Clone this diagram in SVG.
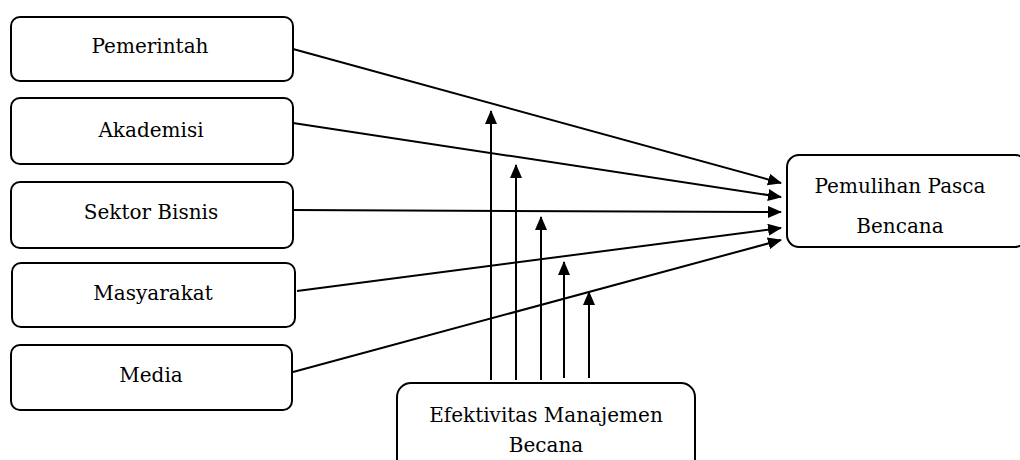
<svg xmlns="http://www.w3.org/2000/svg" width="1020" height="460" viewBox="0 0 1020 460">
<defs>
<style>
.box{fill:#fff;stroke:#000;stroke-width:2}
.t{font-family:"DejaVu Serif","Liberation Serif",serif;font-size:20px;fill:#000;text-anchor:middle}
.c{stroke:#000;stroke-width:2;fill:none;marker-end:url(#ah)}
</style>
<marker id="ah" markerWidth="14" markerHeight="12" refX="13" refY="6" orient="auto" markerUnits="userSpaceOnUse">
<path d="M0,0 L14,6 L0,12 Z" fill="#000"/>
</marker>
</defs>
<rect width="1020" height="460" fill="#fff"/>
<g id="connectors">
<line class="c" x1="293" y1="49" x2="781" y2="183"/>
<line class="c" x1="293" y1="123" x2="781" y2="197"/>
<line class="c" x1="293" y1="210" x2="781" y2="212"/>
<line class="c" x1="297" y1="291" x2="781" y2="228"/>
<line class="c" x1="293" y1="372" x2="781" y2="240"/>
<line class="c" x1="491" y1="380" x2="491" y2="111"/>
<line class="c" x1="516" y1="380" x2="516" y2="165"/>
<line class="c" x1="541" y1="380" x2="541" y2="217"/>
<line class="c" x1="564" y1="378" x2="564" y2="262"/>
<line class="c" x1="589" y1="378" x2="589" y2="292"/>
</g>
<g id="pemerintah"><rect class="box" x="11" y="17" width="282" height="64" rx="9"/><text class="t" x="150" y="53">Pemerintah</text></g>
<g id="akademisi"><rect class="box" x="11" y="98" width="282" height="66" rx="9"/><text class="t" x="151" y="137">Akademisi</text></g>
<g id="sektor-bisnis"><rect class="box" x="11" y="182" width="282" height="66" rx="9"/><text class="t" x="151" y="219">Sektor Bisnis</text></g>
<g id="masyarakat"><rect class="box" x="12" y="263" width="283" height="64" rx="9"/><text class="t" x="153" y="300">Masyarakat</text></g>
<g id="media"><rect class="box" x="11" y="345" width="281" height="65" rx="9"/><text class="t" x="151" y="382">Media</text></g>
<g id="pemulihan"><rect class="box" x="787" y="155" width="240" height="92" rx="12"/><text class="t" x="900" y="193">Pemulihan Pasca</text><text class="t" x="900" y="233">Bencana</text></g>
<g id="efektivitas"><rect class="box" x="397" y="383" width="298" height="100" rx="14"/><text class="t" x="546" y="422">Efektivitas Manajemen</text><text class="t" x="546" y="452">Becana</text></g>
</svg>
